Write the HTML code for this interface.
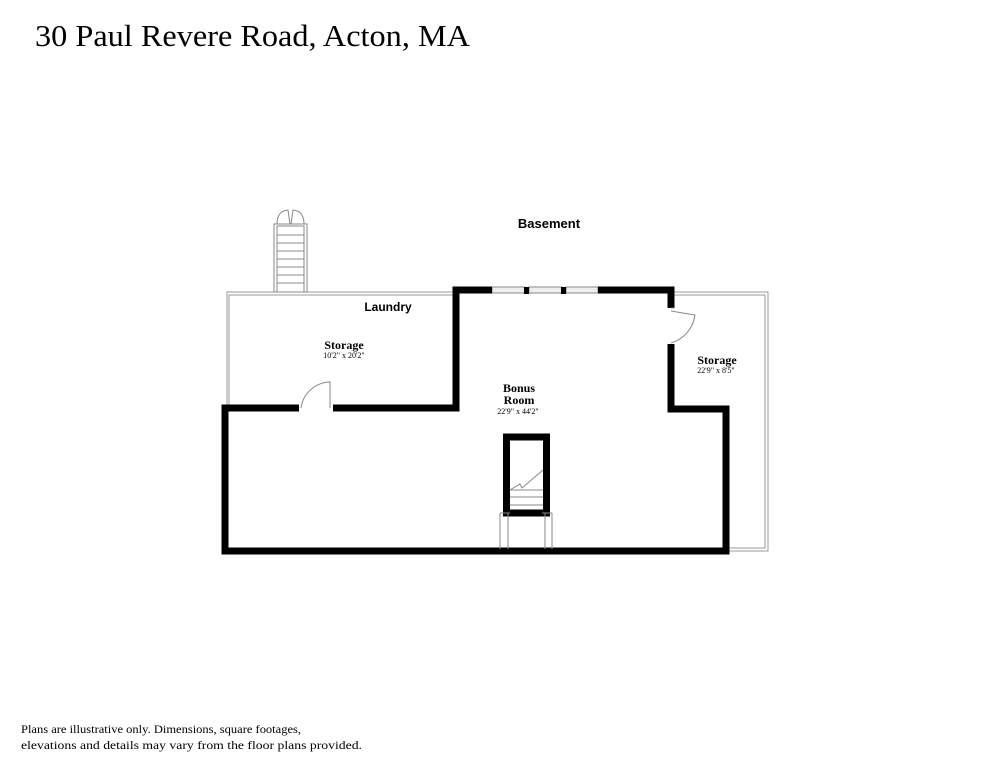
<!DOCTYPE html>
<html><head><meta charset="utf-8"><style>
body{margin:0;background:#fff;width:994px;height:768px;overflow:hidden}
svg{display:block}
.s{font-family:"Liberation Serif",serif}
.a{font-family:"Liberation Sans",sans-serif}
</style></head><body>
<svg width="994" height="768" viewBox="0 0 994 768">
<text x="35" y="46" class="s" font-size="31" fill="#000" textLength="435" lengthAdjust="spacingAndGlyphs">30 Paul Revere Road, Acton, MA</text>
<text x="549" y="228" class="a" font-size="13" font-weight="bold" text-anchor="middle">Basement</text>
<g fill="none" stroke="#999" stroke-width="1">
<path d="M227,408 V292 H456 M229,408 V295 H456"/>
<path d="M671,292 H768 V551 H726 M671,295 H765 V548 H726"/>
</g>
<g fill="none" stroke="#888" stroke-width="1">
<rect x="274" y="224" width="33" height="68"/>
<rect x="277" y="226" width="27" height="66"/>
<path d="M277,235H304M277,243H304M277,251H304M277,259H304M277,267H304M277,275H304M277,283H304"/>
<path d="M277,224 Q277,211 288,210 L290,224 M304,224 Q304,211 293,210 L291,224"/>
</g>
<g fill="#eee" stroke="#888" stroke-width="1">
<rect x="492" y="287" width="33" height="6"/><rect x="529" y="287" width="33" height="6"/><rect x="566" y="287" width="32" height="6"/>
</g>
<g fill="none" stroke="#000" stroke-width="7" stroke-linejoin="miter">
<path d="M299,408 H225 V551 H726 V409 H671 V344"/>
<path d="M333,408 H456 V290 H492"/>
<path d="M598,290 H671 V308"/>
<rect x="506.5" y="437" width="40" height="76"/>
</g>
<rect x="524" y="287" width="5" height="7"/><rect x="561" y="287" width="5" height="7"/>
<g fill="none" stroke="#888" stroke-width="1">
<path d="M301,408 A30,30 0 0 1 330,382 V408"/>
<path d="M671,308 H674 M671,343 A34,34 0 0 0 695,315 L671,311"/>
</g>
<g fill="none" stroke="#888" stroke-width="1">
<path d="M510,490 L520,484 L522,488 L543,470"/>
<path d="M510,490 H543 M510,497 H543 M510,505 H543"/>
<path d="M500,513 V549 M508,513 V549 M545,513 V549 M552,513 V549 M500,513 H510 M542,513 H552"/>
</g>
<g class="s" text-anchor="middle" fill="#000">
<text x="388" y="311" class="a" font-size="12" font-weight="bold">Laundry</text>
<text x="344" y="349" font-size="12" font-weight="bold">Storage</text>
<text x="344" y="358" font-size="8">10'2" x 20'2"</text>
<text x="519" y="392" font-size="12" font-weight="bold">Bonus</text>
<text x="519" y="404" font-size="12" font-weight="bold">Room</text>
<text x="518" y="414" font-size="8">22'9" x 44'2"</text>
<text x="717" y="364" font-size="12" font-weight="bold">Storage</text>
<text x="716" y="373" font-size="8">22'9" x 8'5"</text>
</g>
<text x="21" y="733" class="s" font-size="12" textLength="280" lengthAdjust="spacingAndGlyphs">Plans are illustrative only. Dimensions, square footages,</text>
<text x="21" y="749" class="s" font-size="12" textLength="341" lengthAdjust="spacingAndGlyphs">elevations and details may vary from the floor plans provided.</text>
</svg>
</body></html>
